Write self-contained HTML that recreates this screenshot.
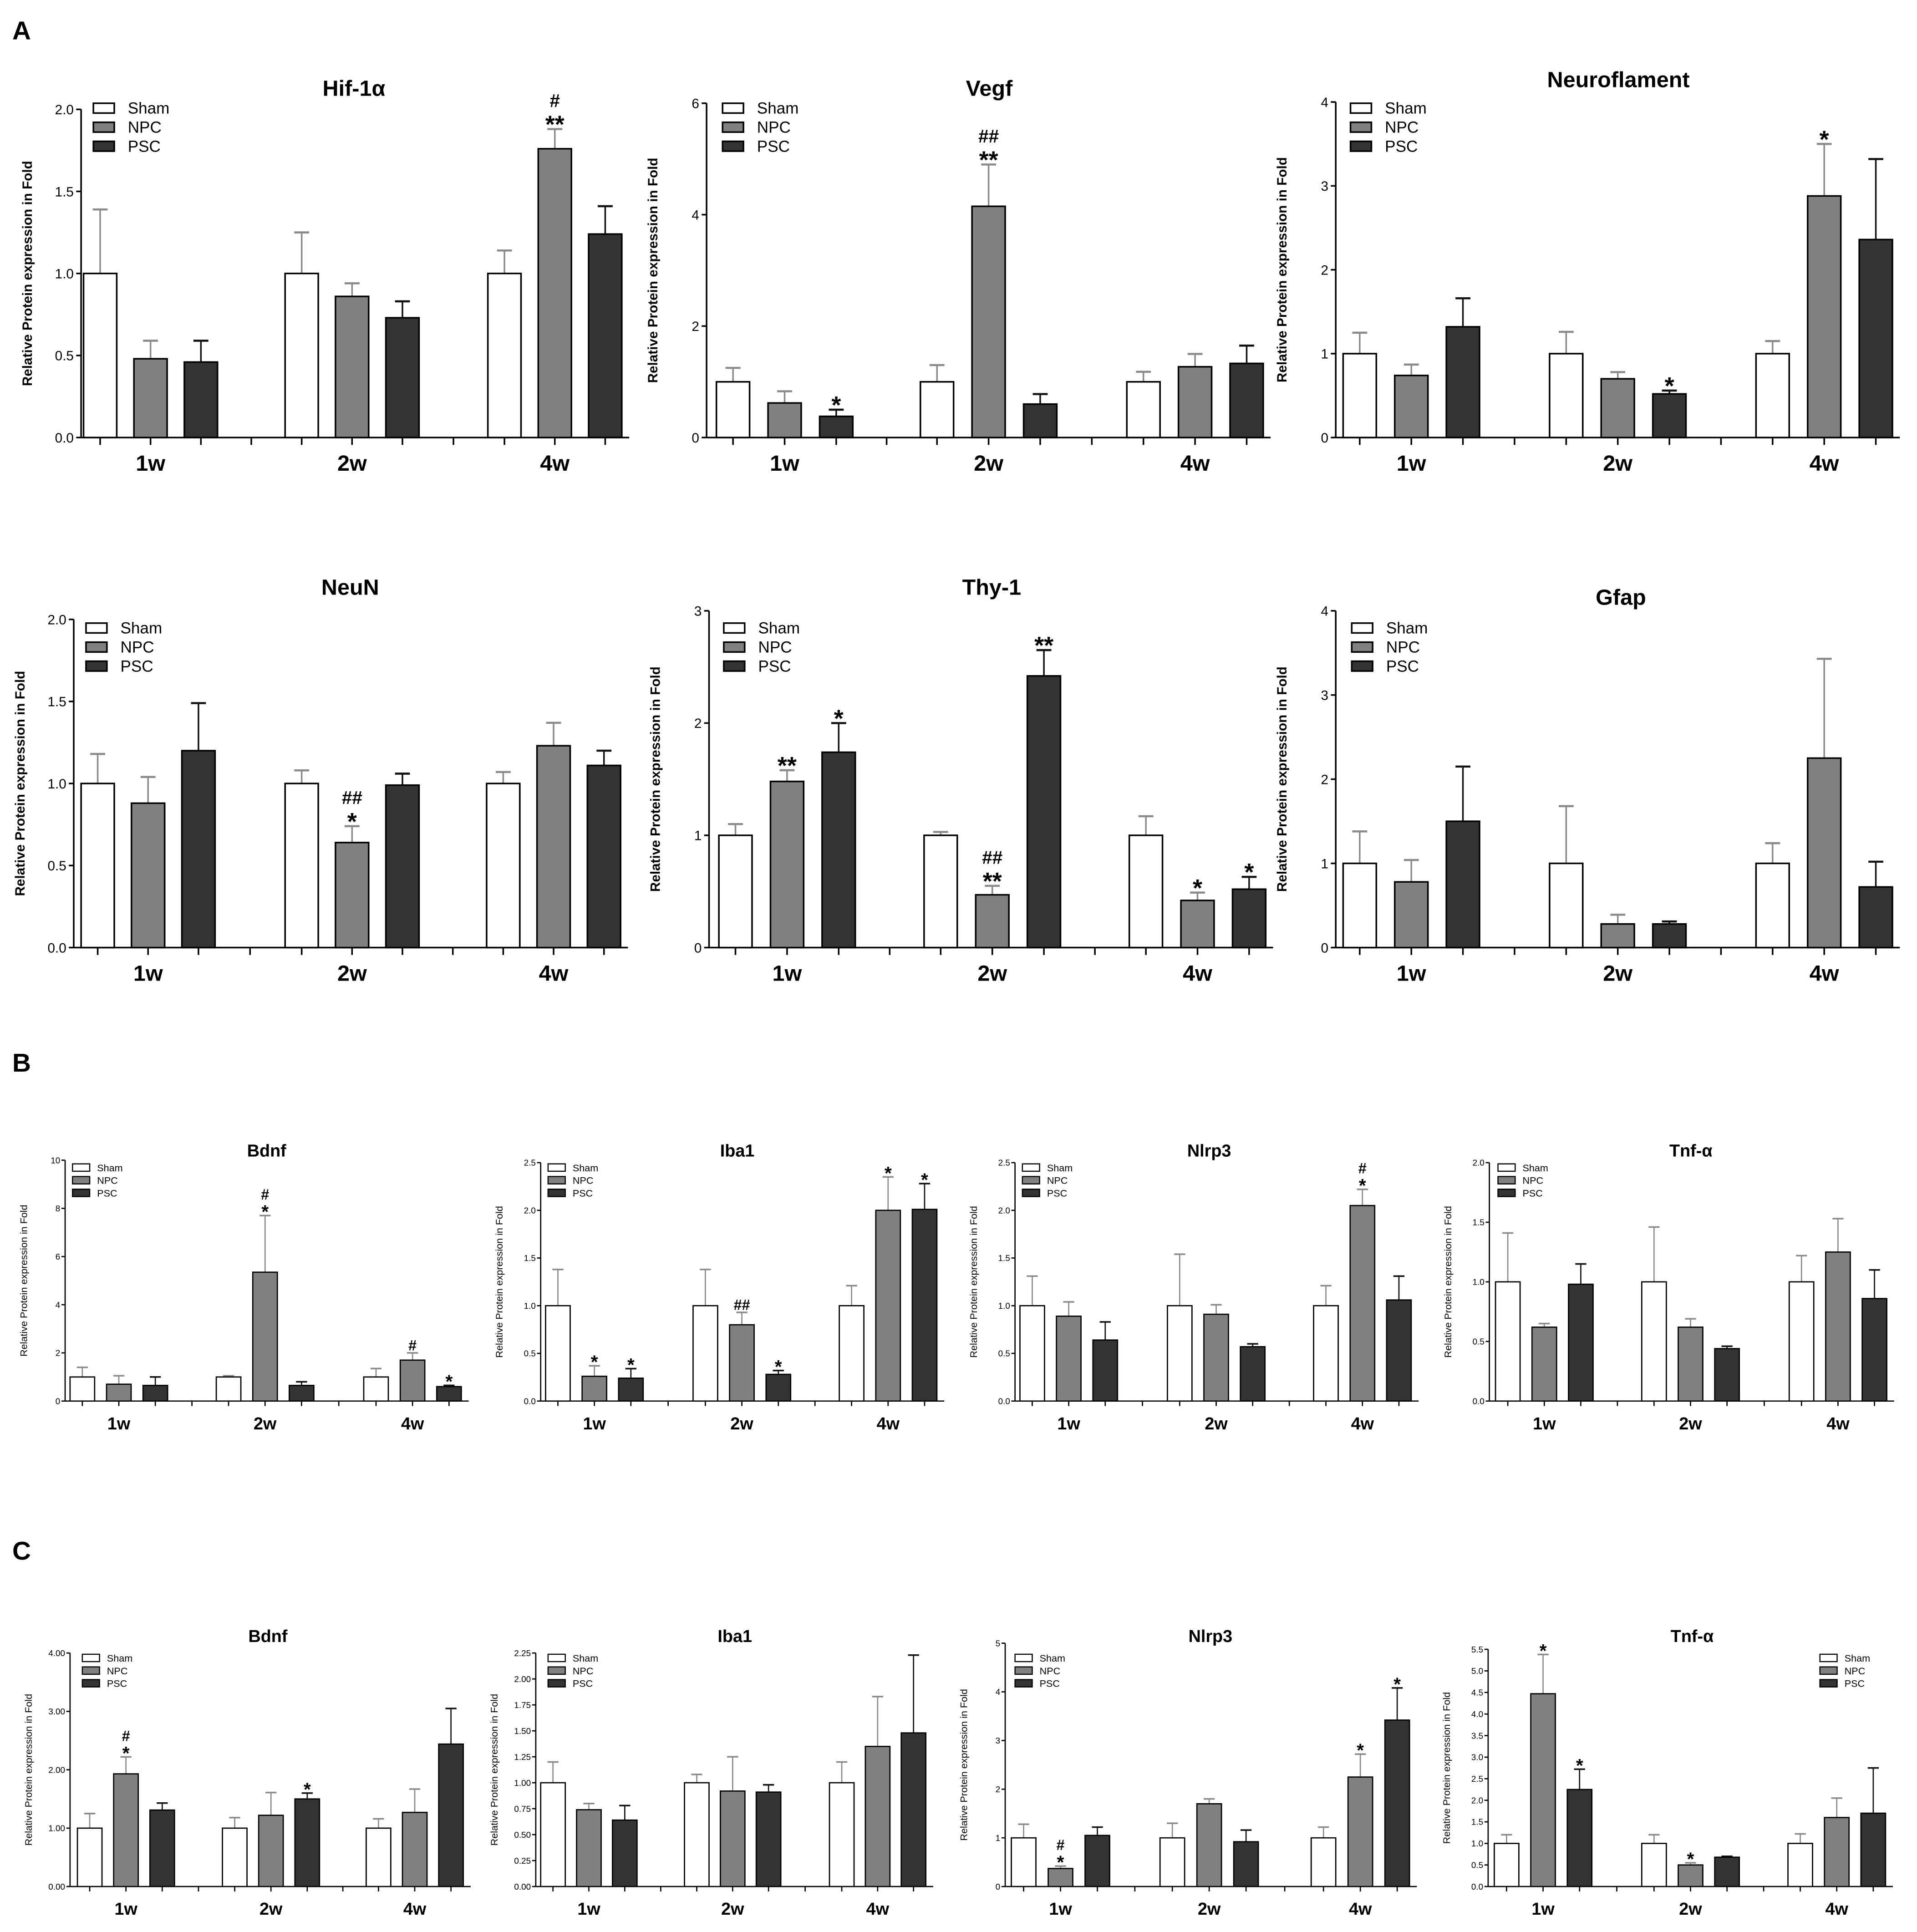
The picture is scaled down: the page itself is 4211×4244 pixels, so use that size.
<!DOCTYPE html>
<html><head><meta charset="utf-8"><style>
html,body{margin:0;padding:0;background:#fff}
svg{display:block}
text{font-family:"Liberation Sans",Arial,sans-serif}
</style></head><body>
<svg id="fig" xmlns="http://www.w3.org/2000/svg" width="4211" height="4244" viewBox="0 0 1560 1572" preserveAspectRatio="none">
<rect width="1560" height="1572" fill="#fff"/>
<text x="10" y="32" font-size="21" font-weight="bold">A</text>
<text x="10" y="872" font-size="21" font-weight="bold">B</text>
<text x="10" y="1269" font-size="21" font-weight="bold">C</text>
</svg>
<script>
const groups = ["1w","2w","4w"];
const seriesNames = ["Sham","NPC","PSC"];

const hif_sham=[1,1,1], hif_npc=[0.48,0.86,1.76], hif_psc=[0.46,0.73,1.24];
const hif_upper=[[1.39,1.25,1.14],[0.59,0.94,1.88],[0.59,0.83,1.41]];
const hif_marks=[["","",""],["","","#\n**"],["","",""]];

const vegf_sham=[1,1,1], vegf_npc=[0.62,4.15,1.27], vegf_psc=[0.38,0.6,1.33];
const vegf_upper=[[1.25,1.3,1.18],[0.83,4.9,1.5],[0.5,0.78,1.65]];
const vegf_marks=[["","",""],["","##\n**",""],["*","",""]];

const nf_sham=[1,1,1], nf_npc=[0.74,0.7,2.88], nf_psc=[1.32,0.52,2.36];
const nf_upper=[[1.25,1.26,1.15],[0.87,0.78,3.5],[1.66,0.56,3.32]];
const nf_marks=[["","",""],["","","*"],["","*",""]];

const neun_sham=[1,1,1], neun_npc=[0.88,0.64,1.23], neun_psc=[1.2,0.99,1.11];
const neun_upper=[[1.18,1.08,1.07],[1.04,0.74,1.37],[1.49,1.06,1.2]];
const neun_marks=[["","",""],["","##\n*",""],["","",""]];

const thy_sham=[1,1,1], thy_npc=[1.48,0.47,0.42], thy_psc=[1.74,2.42,0.52];
const thy_upper=[[1.1,1.03,1.17],[1.58,0.55,0.49],[2.0,2.65,0.63]];
const thy_marks=[["","",""],["**","##\n**","*"],["*","**","*"]];

const gfap_sham=[1,1,1], gfap_npc=[0.78,0.28,2.25], gfap_psc=[1.5,0.28,0.72];
const gfap_upper=[[1.38,1.68,1.24],[1.04,0.39,3.43],[2.15,0.31,1.02]];
const gfap_marks=[["","",""],["","",""],["","",""]];

const bbdnf_sham=[1,1,1], bbdnf_npc=[0.7,5.35,1.7], bbdnf_psc=[0.65,0.65,0.6];
const bbdnf_upper=[[1.4,1.05,1.35],[1.05,7.7,2.0],[1.0,0.8,0.65]];
const bbdnf_marks=[["","",""],["","#\n*","#"],["","","*"]];

const biba_sham=[1,1,1], biba_npc=[0.26,0.8,2.0], biba_psc=[0.24,0.28,2.01];
const biba_upper=[[1.38,1.38,1.21],[0.37,0.93,2.35],[0.34,0.32,2.28]];
const biba_marks=[["","",""],["*","##","*"],["*","*","*"]];

const bnlrp_sham=[1,1,1], bnlrp_npc=[0.89,0.91,2.05], bnlrp_psc=[0.64,0.57,1.06];
const bnlrp_upper=[[1.31,1.54,1.21],[1.04,1.01,2.22],[0.83,0.6,1.31]];
const bnlrp_marks=[["","",""],["","","#\n*"],["","",""]];

const btnf_sham=[1,1,1], btnf_npc=[0.62,0.62,1.25], btnf_psc=[0.98,0.44,0.86];
const btnf_upper=[[1.41,1.46,1.22],[0.65,0.69,1.53],[1.15,0.46,1.1]];
const btnf_marks=[["","",""],["","",""],["","",""]];

const cbdnf_sham=[1,1,1], cbdnf_npc=[1.93,1.22,1.27], cbdnf_psc=[1.31,1.5,2.44];
const cbdnf_upper=[[1.25,1.18,1.16],[2.22,1.61,1.67],[1.43,1.6,3.05]];
const cbdnf_marks=[["","",""],["#\n*","",""],["","*",""]];

const ciba_sham=[1,1,1], ciba_npc=[0.74,0.92,1.35], ciba_psc=[0.64,0.91,1.48];
const ciba_upper=[[1.2,1.08,1.2],[0.8,1.25,1.83],[0.78,0.98,2.23]];
const ciba_marks=[["","",""],["","",""],["","",""]];

const cnlrp_sham=[1,1,1], cnlrp_npc=[0.37,1.7,2.25], cnlrp_psc=[1.05,0.92,3.42];
const cnlrp_upper=[[1.28,1.3,1.22],[0.42,1.8,2.72],[1.22,1.16,4.08]];
const cnlrp_marks=[["","",""],["#\n*","","*"],["","","*"]];

const ctnf_sham=[1,1,1], ctnf_npc=[4.47,0.5,1.6], ctnf_psc=[2.25,0.68,1.7];
const ctnf_upper=[[1.2,1.2,1.22],[5.38,0.55,2.05],[2.72,0.7,2.75]];
const ctnf_marks=[["","",""],["*","*",""],["*","",""]];

const svg=document.getElementById('fig');
const NS="http://www.w3.org/2000/svg";
function mk(tag,attrs,parent){const e=document.createElementNS(NS,tag);for(const k in attrs)e.setAttribute(k,attrs[k]);(parent||svg).appendChild(e);return e;}
const fills=["#ffffff","#808080","#333333"];
const errCol=["#8a8a8a","#8a8a8a","#111111"];

function chart(id,title,c,vals,upper,marks){
  const g=mk('g',{});
  
  
  const big=c.big;
  const y=v=>c.yBot-v/c.max*(c.yBot-c.yTop);
  const lw=big?1.3:1;
  const t=mk('text',{x:c.tx,y:c.ty,'font-size':big?18:14,'font-weight':'bold','text-anchor':'middle'},g);
  t.textContent=title;
  
  
  const yl=mk('text',{transform:`translate(${c.ax-(big?40:31)},${(c.yTop+c.yBot)/2}) rotate(-90)`,'font-size':big?11:8,'font-weight':big?'bold':'normal','text-anchor':'middle'},g);
  yl.textContent="Relative Protein expression in Fold";
  
  
  const n=Math.round(c.max/c.step);
  for(let i=0;i<=n;i++){
    const v=i*c.step, yy=y(v);
    mk('line',{x1:c.ax-(big?4:3),x2:c.ax,y1:yy,y2:yy,stroke:'#000','stroke-width':lw},g);
    const tl=mk('text',{x:c.ax-(big?6:4),y:yy+(big?4:2.5),'font-size':big?11:7,'text-anchor':'end'},g);
    tl.textContent=v.toFixed(c.dec);
    
    
  }
  mk('line',{x1:c.ax,x2:c.ax,y1:c.yTop,y2:c.yBot,stroke:'#000','stroke-width':lw},g);
  const xEnd=c.g0[2]+2*c.pitch+c.bw+6;
  mk('line',{x1:c.ax,x2:xEnd,y1:c.yBot,y2:c.yBot,stroke:'#000','stroke-width':lw},g);
  const tk=big?6:4;
  for(let gi=0;gi<3;gi++){
    for(let s=0;s<3;s++){
      const x0=c.g0[gi]+s*c.pitch, cx=x0+c.bw/2, v=vals[s][gi], u=upper[s][gi];
      mk('line',{x1:cx,x2:cx,y1:c.yBot,y2:c.yBot+tk,stroke:'#000','stroke-width':lw},g);
      const cw=c.bw*0.45;
      mk('line',{x1:cx,x2:cx,y1:y(v),y2:y(u),stroke:errCol[s],'stroke-width':lw},g);
      mk('line',{x1:cx-cw/2,x2:cx+cw/2,y1:y(u),y2:y(u),stroke:errCol[s],'stroke-width':lw*1.3},g);
      const r=mk('rect',{x:x0,y:y(v),width:c.bw,height:c.yBot-y(v),fill:fills[s],stroke:'#000','stroke-width':lw},g);
      
      
      const m=marks[s][gi];
      if(m){
        const lines=m.split("\n");
        const lh=big?15:11;
        lines.forEach((L,li)=>{
          const isStar=L.indexOf('*')>=0;
          const ty=y(u)-(isStar?(big?-3:-2):(big?3:2))-(lines.length-1-li)*lh;
          const mt=mk('text',{x:cx,y:ty,'font-size':isStar?(big?20:15):(big?15:12),'font-weight':'bold','text-anchor':'middle'},g);
          mt.textContent=L;
          
          
        });
      }
    }
    if(gi<2){
      const gx=(c.g0[gi]+2*c.pitch+c.bw+c.g0[gi+1])/2;
      mk('line',{x1:gx,x2:gx,y1:c.yBot,y2:c.yBot+tk,stroke:'#000','stroke-width':lw},g);
    }
    const gl=mk('text',{x:c.g0[gi]+c.pitch+c.bw/2,y:c.yBot+(big?27:23),'font-size':big?18:14,'font-weight':'bold','text-anchor':'middle'},g);
    gl.textContent=groups[gi];
    
    
  }
  // legend
  const lg=mk('g',{},g);
  
  
  const bwl=big?17:14, bhl=big?8:6, rh=big?15.5:10.3;
  for(let s=0;s<3;s++){
    const ly=c.lg[1]+s*rh;
    mk('rect',{x:c.lg[0],y:ly-bhl/2,width:bwl,height:bhl,fill:fills[s],stroke:'#000','stroke-width':big?1.3:0.9},lg);
    const lt=mk('text',{x:c.lg[0]+bwl+(big?11:6),y:ly+(big?4.5:3),'font-size':big?13:8},lg);
    lt.textContent=seriesNames[s];
    
    
  }
}

const A1={ax:66,yTop:89,yBot:356,max:2,step:0.5,dec:1,g0:[68,232,397],pitch:41,bw:27,tx:288,ty:78,big:true,lg:[76,88]};
chart('hif-1a','Hif-1α',A1,[hif_sham,hif_npc,hif_psc],hif_upper,hif_marks);
chart('vegf','Vegf',{ax:575,yTop:84,yBot:356,max:6,step:2,dec:0,g0:[583,749,917],pitch:42,bw:27,tx:805,ty:78,big:true,lg:[588,88]},[vegf_sham,vegf_npc,vegf_psc],vegf_upper,vegf_marks);
chart('neurofilament','Neuroflament',{ax:1087,yTop:83,yBot:356,max:4,step:1,dec:0,g0:[1093,1261,1429],pitch:42,bw:27,tx:1317,ty:71,big:true,lg:[1099,88]},[nf_sham,nf_npc,nf_psc],nf_upper,nf_marks);
chart('neun','NeuN',{ax:60,yTop:504,yBot:771,max:2,step:0.5,dec:1,g0:[66,232,396],pitch:41,bw:27,tx:285,ty:484,big:true,lg:[70,511]},[neun_sham,neun_npc,neun_psc],neun_upper,neun_marks);
chart('thy-1','Thy-1',{ax:577,yTop:497,yBot:771,max:3,step:1,dec:0,g0:[585,752,919],pitch:42,bw:27,tx:807,ty:484,big:true,lg:[589,511]},[thy_sham,thy_npc,thy_psc],thy_upper,thy_marks);
chart('gfap','Gfap',{ax:1087,yTop:497,yBot:771,max:4,step:1,dec:0,g0:[1093,1261,1429],pitch:42,bw:27,tx:1319,ty:492,big:true,lg:[1100,511]},[gfap_sham,gfap_npc,gfap_psc],gfap_upper,gfap_marks);

chart('b-bdnf','Bdnf',{ax:53,yTop:944,yBot:1140,max:10,step:2,dec:0,g0:[57,176,296],pitch:29.7,bw:20,tx:217,ty:941,big:false,lg:[59,950]},[bbdnf_sham,bbdnf_npc,bbdnf_psc],bbdnf_upper,bbdnf_marks);
chart('b-iba1','Iba1',{ax:440,yTop:946,yBot:1140,max:2.5,step:0.5,dec:1,g0:[444,564,683],pitch:29.7,bw:20,tx:600,ty:941,big:false,lg:[446,950]},[biba_sham,biba_npc,biba_psc],biba_upper,biba_marks);
chart('b-nlrp3','Nlrp3',{ax:826,yTop:946,yBot:1140,max:2.5,step:0.5,dec:1,g0:[830,950,1069],pitch:29.7,bw:20,tx:984,ty:941,big:false,lg:[832,950]},[bnlrp_sham,bnlrp_npc,bnlrp_psc],bnlrp_upper,bnlrp_marks);
chart('b-tnf-a','Tnf-α',{ax:1212,yTop:946,yBot:1140,max:2,step:0.5,dec:1,g0:[1217,1336,1456],pitch:29.7,bw:20,tx:1376,ty:941,big:false,lg:[1219,950]},[btnf_sham,btnf_npc,btnf_psc],btnf_upper,btnf_marks);

chart('c-bdnf','Bdnf',{ax:57,yTop:1345,yBot:1535,max:4,step:1,dec:2,g0:[63,181,298],pitch:29.5,bw:20,tx:218,ty:1336,big:false,lg:[67,1349]},[cbdnf_sham,cbdnf_npc,cbdnf_psc],cbdnf_upper,cbdnf_marks);
chart('c-iba1','Iba1',{ax:436,yTop:1345,yBot:1535,max:2.25,step:0.25,dec:2,g0:[440,557,675],pitch:29.2,bw:20,tx:598,ty:1336,big:false,lg:[446,1349]},[ciba_sham,ciba_npc,ciba_psc],ciba_upper,ciba_marks);
chart('c-nlrp3','Nlrp3',{ax:818,yTop:1337,yBot:1535,max:5,step:1,dec:0,g0:[823,944,1067],pitch:30,bw:20,tx:985,ty:1336,big:false,lg:[826,1349]},[cnlrp_sham,cnlrp_npc,cnlrp_psc],cnlrp_upper,cnlrp_marks);
chart('c-tnf-a','Tnf-α',{ax:1211,yTop:1342,yBot:1535,max:5.5,step:0.5,dec:1,g0:[1216,1336,1455],pitch:29.7,bw:20,tx:1377,ty:1336,big:false,lg:[1481,1349]},[ctnf_sham,ctnf_npc,ctnf_psc],ctnf_upper,ctnf_marks);
</script>
</body></html>
